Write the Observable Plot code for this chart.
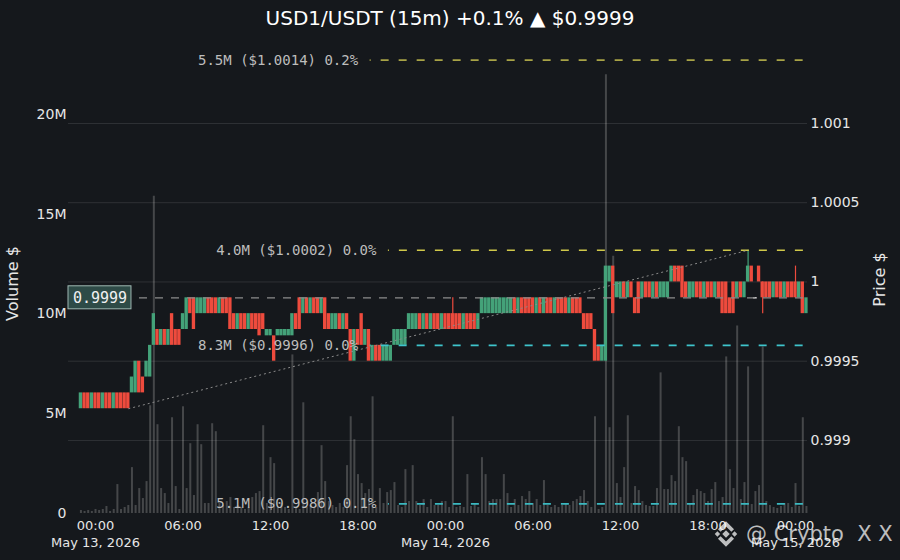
<!DOCTYPE html>
<html>
<head>
<meta charset="utf-8">
<script src="https://cdn.jsdelivr.net/npm/d3@7"></script>
<script src="https://cdn.jsdelivr.net/npm/@observablehq/plot@0.6"></script>
<style>
html,body{margin:0;padding:0;background:#15181c;}
#wrap{position:relative;width:900px;height:560px;overflow:hidden;background:#15181c;font-family:"DejaVu Sans",sans-serif;}
#title{position:absolute;left:0;top:0;width:900px;height:36px;line-height:36px;text-align:center;color:#ffffff;font-size:20px;white-space:pre;}
.layer{position:absolute;left:0;top:36px;width:900px;height:524px;}
#wm{position:absolute;left:711px;top:519px;height:30px;display:flex;align-items:center;color:rgba(255,255,255,0.72);font-size:21px;white-space:pre;font-family:"DejaVu Sans",sans-serif;}
#wm svg{margin-right:5px;}
</style>
</head>
<body>
<div id="wrap">
  <div id="title"></div>
  <div id="vol" class="layer"></div>
  <div id="price" class="layer"></div>
  <div id="wm"><svg width="30" height="30" viewBox="0 0 28 28"><g fill="rgba(255,255,255,0.72)"><polygon points="14,10.5 17.5,14 14,17.5 10.5,14"/><polygon points="6,11.5 8.5,14 6,16.5 3.5,14"/><polygon points="22,11.5 24.5,14 22,16.5 19.5,14"/><polygon points="14,2 21.5,9.5 19,12 14,7 9,12 6.5,9.5"/><polygon points="14,26 21.5,18.5 19,16 14,21 9,16 6.5,18.5"/></g></svg><span>@ Crypto  X X</span></div>
</div>
<script>
// ---------- data ----------
const pair = "USD1/USDT";
const intervalLabel = "15m";
const firstCandle = "2026-05-12T23:00:00Z";
const candleMinutes = 15;

const opens = [
0.9992,0.9993,0.9993,0.9992,0.9993,0.9993,0.9992,0.9993,0.9993,0.9992,
0.9993,0.9993,0.9993,0.9993,0.9993,0.9993,0.9995,0.9994,0.9994,0.9994,
0.9996,0.9997,0.9996,0.9997,0.9996,0.9998,0.9997,0.9997,0.9997,0.9997,
0.9999,0.9999,0.9998,0.9998,0.9998,0.9999,0.9999,0.9999,0.9998,0.9999,
0.9999,0.9999,0.9998,0.9997,0.9998,0.9998,0.9997,0.9998,0.9998,0.9998,
0.9998,0.99966,0.99966,0.99966,0.99966,0.99966,0.99966,0.99966,0.99966,0.9998,
0.9999,0.9998,0.9999,0.9998,0.9999,0.9999,0.9998,0.9999,0.9998,0.9997,
0.9997,0.9998,0.9997,0.9998,0.9997,0.9995,0.9997,0.9998,0.9996,0.9997,
0.9995,0.9996,0.9996,0.9995,0.9995,0.9995,0.9996,0.9996,0.9996,0.9996,
0.9997,0.9997,0.9997,0.9998,0.9997,0.9998,0.9997,0.9998,0.9998,0.9997,
0.9998,0.9998,0.9998,0.9998,0.9998,0.9997,0.9998,0.9998,0.9998,0.9997,
0.9998,0.9998,0.9998,0.9998,0.9998,0.9998,0.9998,0.9998,0.9998,0.9999,
0.9998,0.9999,0.9999,0.9999,0.9999,0.9998,0.9999,0.9998,0.9999,0.9999,
0.9998,0.9999,0.9999,0.9999,0.9998,0.9999,0.9999,0.9999,0.9998,0.9998,
0.9998,0.9997,0.9996,0.9995,0.9995,1.0000,1.0001,0.9999,0.9999,1.0000,
0.9999,1.0000,0.9999,1.0000,0.9999,1.0000,1.0000,0.9999,1.0000,0.9999,
0.9999,0.9999,1.0000,1.0001,1.0001,1.0001,1.0000,0.9999,0.9999,1.0000,
1.0000,0.9999,1.0000,1.0000,0.9999,1.0000,1.0000,1.0000,0.9999,1.0000,
0.9999,1.0000,0.9999,1.0000,1.0001,0.9999,1.0001,1.0000,1.0000,1.0000,
0.9999,1.0000,1.0000,0.9999,1.0000,1.0000,1.0000,0.9999,1.0000,0.9998
];
const closes = [
0.9993,0.9992,0.9992,0.9993,0.9992,0.9992,0.9993,0.9992,0.9992,0.9993,
0.9992,0.9992,0.9992,0.9992,0.9994,0.9995,0.9993,0.9993,0.9995,0.9996,
0.9998,0.9996,0.9997,0.9996,0.9997,0.9996,0.9996,0.9996,0.9998,0.9999,
0.9998,0.9997,0.9999,0.9999,0.9999,0.9998,0.9998,0.9998,0.9999,0.9998,
0.9998,0.9997,0.9997,0.9998,0.9997,0.9997,0.9998,0.9997,0.9997,0.99966,
0.9997,0.9997,0.9997,0.9995,0.9997,0.9997,0.9997,0.9997,0.9998,0.9997,
0.9997,0.9999,0.9998,0.9999,0.9998,0.9998,0.9999,0.9997,0.9997,0.9998,
0.9998,0.9997,0.9998,0.9997,0.9995,0.9997,0.9996,0.9996,0.9997,0.9995,
0.9996,0.9995,0.9995,0.9996,0.9996,0.9996,0.9997,0.9997,0.9997,0.9997,
0.9998,0.9998,0.9998,0.9997,0.9998,0.9997,0.9998,0.9997,0.9997,0.9998,
0.9997,0.9997,0.9997,0.9997,0.9997,0.9998,0.9997,0.9997,0.9997,0.9998,
0.9999,0.9999,0.9999,0.9999,0.9999,0.9999,0.9999,0.9999,0.9999,0.9998,
0.9999,0.9998,0.9998,0.9998,0.9998,0.9999,0.9998,0.9999,0.9998,0.9998,
0.9999,0.9998,0.9998,0.9998,0.9999,0.9998,0.9998,0.9998,0.9997,0.9997,
0.9997,0.9995,0.9995,0.9996,1.0001,1.0001,0.9998,1.0000,1.0000,0.9999,
1.0000,0.9999,0.9998,0.9998,1.0000,0.9999,0.9999,1.0000,0.9999,1.0000,
1.0000,1.0000,1.0001,1.0000,1.0000,0.9999,0.9999,1.0000,1.0000,0.9999,
0.9999,1.0000,0.9999,0.9999,1.0000,0.9999,0.9998,0.9998,0.9998,0.9998,
1.0000,0.9999,1.0000,1.0001,1.0000,0.9999,1.0000,0.9999,0.9999,0.9999,
1.0000,0.9999,0.9999,1.0000,0.9999,0.9999,0.9999,1.0000,0.9998,0.9999
];
// volume per candle, millions of $
const volumesM = [
0.15,0.1,0.15,0.1,0.2,0.15,0.2,0.35,0.1,0.2,
1.45,0.2,0.3,0.4,2.3,0.4,1.25,0.75,1.6,5.4,
15.9,4.45,1.25,1.0,0.5,4.8,1.35,0.2,5.35,1.25,
3.5,0.9,4.45,3.45,0.5,0.5,4.5,4.1,0.5,0.4,
0.6,0.8,0.3,0.4,0.3,0.2,0.3,0.8,1.0,1.1,
4.4,0.5,2.8,2.5,0.3,0.5,0.3,0.2,7.95,0.3,
0.2,5.55,0.3,0.4,0.3,1.05,3.4,1.6,0.6,0.4,
0.3,0.5,0.3,2.4,4.85,3.7,1.95,1.5,1.0,1.2,
5.85,0.3,1.25,0.5,1.05,1.15,1.55,0.4,0.3,2.2,
0.6,2.4,0.6,0.4,0.7,0.3,0.7,0.4,0.4,0.6,
0.6,0.3,4.85,0.3,0.35,0.3,1.95,0.35,0.5,0.3,
2.8,1.95,0.6,0.7,0.7,0.7,1.95,1.0,0.3,0.7,
0.4,0.85,0.7,1.1,0.5,0.7,0.4,1.65,0.4,0.3,
0.4,0.3,0.4,0.5,0.4,0.6,0.7,0.85,1.15,0.6,
0.3,4.85,0.2,0.3,22.0,4.3,12.9,1.5,0.8,2.3,
4.9,0.5,1.35,1.15,0.6,0.4,0.35,0.35,1.25,7.05,
1.2,1.2,1.9,1.6,4.35,2.8,2.6,0.5,0.9,1.2,
1.1,1.0,0.6,1.2,1.55,0.6,0.8,7.85,2.2,1.25,
9.4,0.7,1.55,7.35,0.45,1.1,1.4,8.35,0.6,0.4,
0.3,0.25,0.35,0.5,0.5,0.3,1.5,0.35,4.8,0.35
];
// candles whose wick reaches beyond the body
const wickIdx = [102, 183, 187, 196];
const wickHigh = [0.9999, 1.0002, 1.0000, 1.0001];
const wickLow = [0.9997, 1.0000, 0.9998, 0.9999];

// marked price levels
const levelPrices = [1.0014, 1.0002, 0.9996, 0.9986];
const levelVolumes = ["5.5M", "4.0M", "8.3M", "5.1M"];
const levelPcts = ["0.2%", "0.0%", "0.0%", "0.1%"];
const levelStarts = ["2026-05-13T18:50:00Z", "2026-05-13T20:05:00Z", "2026-05-13T18:50:00Z", "2026-05-13T20:05:00Z"];
const levelColors = ["#a8a346", "#d0c84a", "#3fc4cb", "#3bb9c1"];

// axes
const xTickTimes = ["2026-05-13T00:00:00Z","2026-05-13T06:00:00Z","2026-05-13T12:00:00Z","2026-05-13T18:00:00Z",
  "2026-05-14T00:00:00Z","2026-05-14T06:00:00Z","2026-05-14T12:00:00Z","2026-05-14T18:00:00Z","2026-05-15T00:00:00Z"];
const xTickLabels = ["00:00\nMay 13, 2026","06:00","12:00","18:00","00:00\nMay 14, 2026","06:00","12:00","18:00","00:00\nMay 15, 2026"];
const xDomainISO = ["2026-05-12T22:08:54Z", "2026-05-15T00:49:22Z"];
const volTicks = [0, 5, 10, 15, 20];
const volTickLabels = ["0", "5M", "10M", "15M", "20M"];
const volDomain = [0, 23.46];
const priceTicks = [0.999, 0.9995, 1, 1.0005, 1.001];
const priceTickLabels = ["0.999", "0.9995", "1", "1.0005", "1.001"];
const priceDomain = [0.998539, 1.001492];

// ---------- build ----------
const GREEN = "#44a279", RED = "#ee4b3d";
const t0 = new Date(firstCandle).getTime();
const MIN = 60000;
const candles = opens.map((o, i) => {
  const w = wickIdx.indexOf(i);
  const c = closes[i];
  return {
    i,
    time: new Date(t0 + i * candleMinutes * MIN),
    open: o, close: c,
    high: w >= 0 ? wickHigh[w] : Math.max(o, c),
    low: w >= 0 ? wickLow[w] : Math.min(o, c),
    volume: volumesM[i],
    color: c > o ? GREEN : c < o ? RED : "#cfcfcf"
  };
});
const half = candleMinutes * MIN / 2;
const xDomain = xDomainISO.map(s => new Date(s));
const xTicks = xTickTimes.map(s => new Date(s));
const xLabelMap = new Map(xTicks.map((d, i) => [d.getTime(), xTickLabels[i]]));
const volLabelMap = new Map(volTicks.map((d, i) => [d, volTickLabels[i]]));
const priceLabelMap = new Map(priceTicks.map((d, i) => [d, priceTickLabels[i]]));

const levels = levelPrices.map((p, i) => ({
  price: p, start: new Date(levelStarts[i]), color: levelColors[i],
  label: `${levelVolumes[i]} ($${p.toFixed(4)}) ${levelPcts[i]}`
}));

// lowest low (latest occurrence) and highest high
let lo = candles[0], hi = candles[0];
for (const d of candles) { if (d.low <= lo.low) lo = d; if (d.high > hi.high) hi = d; }
const trend = [{x1: lo.time, y1: lo.low, x2: hi.time, y2: hi.high}];

const last = candles[candles.length - 1];
const lastPrice = last.close;
const firstPrice = candles[0].open;
const change = (lastPrice - firstPrice) / firstPrice;
document.getElementById("title").textContent =
  `${pair} (${intervalLabel}) ${d3.format("+.1%")(change)} ${change >= 0 ? "▲" : "▼"} $${lastPrice.toFixed(4)}`;

const boxHalf = 0.0000726;
const boxEnd = new Date(Date.parse("2026-05-13T02:28:00Z"));
const boxMid = new Date(Date.parse("2026-05-13T00:18:30Z"));
const lastLineStart = new Date(Date.parse("2026-05-13T03:01:00Z"));

const common = {
  width: 900, height: 524,
  marginLeft: 68, marginRight: 93, marginTop: 9, marginBottom: 47,
  style: {background: "transparent", color: "#e6e6e6", fontFamily: "DejaVu Sans, sans-serif", fontSize: "13px", overflow: "visible"}
};

const volChart = Plot.plot({
  ...common,
  x: {type: "utc", domain: xDomain, axis: null},
  y: {domain: volDomain, axis: null},
  marks: [
    Plot.ruleX(candles, {x: "time", y1: 0, y2: "volume", stroke: "#9a9a9a", strokeOpacity: 0.36, strokeWidth: 2}),
    Plot.axisY(volTicks, {anchor: "left", tickSize: 0, tickPadding: 2, fontSize: 14, fill: "#e6e6e6",
      tickFormat: d => volLabelMap.get(d), label: null}),
    Plot.text(["Volume $"], {frameAnchor: "left", textAnchor: "middle", dx: -56, dy: 4, rotate: -90, fontSize: 16, fill: "#e6e6e6"})
  ]
});
document.getElementById("vol").appendChild(volChart);

const bodies = candles.filter(d => d.open !== d.close);
const dojis = candles.filter(d => d.open === d.close);
const wicks = candles.filter(d => wickIdx.includes(d.i));

const priceChart = Plot.plot({
  ...common,
  color: {type: "identity"},
  x: {type: "utc", domain: xDomain},
  y: {domain: priceDomain},
  marks: [
    Plot.gridY(priceTicks, {stroke: "#ffffff", strokeOpacity: 0.11}),
    Plot.axisY(priceTicks, {anchor: "right", tickSize: 0, tickPadding: 3, fontSize: 14, fill: "#e6e6e6",
      tickFormat: d => priceLabelMap.get(d), label: null}),
    Plot.axisX(xTicks, {tickSize: 0, tickPadding: 4, fontSize: 13, lineHeight: 1.32, fill: "#e6e6e6",
      tickFormat: d => xLabelMap.get(d.getTime()), label: null}),
    Plot.ruleX(wicks, {x: "time", y1: "low", y2: "high", stroke: "color", strokeWidth: 1.2}),
    Plot.rect(bodies, {x1: d => new Date(d.time.getTime() - half), x2: d => new Date(d.time.getTime() + half),
      y1: "open", y2: "close", fill: "color", insetLeft: 0.15, insetRight: 0.15}),
    Plot.ruleY(dojis, {y: "open", x1: d => new Date(d.time.getTime() - half), x2: d => new Date(d.time.getTime() + half),
      stroke: "color", strokeWidth: 1.5}),
    Plot.ruleY(levels, {y: "price", x1: "start", x2: xDomain[1], stroke: "color", strokeWidth: 1.6,
      strokeDasharray: "8,10", strokeDashoffset: 7}),
    Plot.text(levels, {x: "start", y: "price", text: "label", textAnchor: "end", dx: -12,
      fill: "#bdbdbd", fontFamily: "DejaVu Sans Mono, monospace", fontSize: 14}),
    Plot.ruleY([lastPrice], {y: d => d, x1: lastLineStart, x2: xDomain[1], stroke: "#8c8c8c", strokeWidth: 1.3, strokeDasharray: "8,8"}),
    Plot.link(trend, {x1: "x1", y1: "y1", x2: "x2", y2: "y2", stroke: "#8a8a8a", strokeWidth: 1, strokeDasharray: "2,3"}),
    Plot.rect([lastPrice], {x1: xDomain[0], x2: boxEnd, y1: d => d - boxHalf, y2: d => d + boxHalf,
      fill: "#2e4b47", stroke: "#9fb8b3", strokeWidth: 1}),
    Plot.text([lastPrice], {x: boxMid, y: d => d, text: d => d.toFixed(4), fill: "#f0f0f0",
      fontFamily: "DejaVu Sans Mono, monospace", fontSize: 15}),
    Plot.text(["Price $"], {frameAnchor: "right", textAnchor: "middle", dx: 72, rotate: -90, fontSize: 16, fill: "#e6e6e6"})
  ]
});
document.getElementById("price").appendChild(priceChart);
</script>
</body>
</html>
